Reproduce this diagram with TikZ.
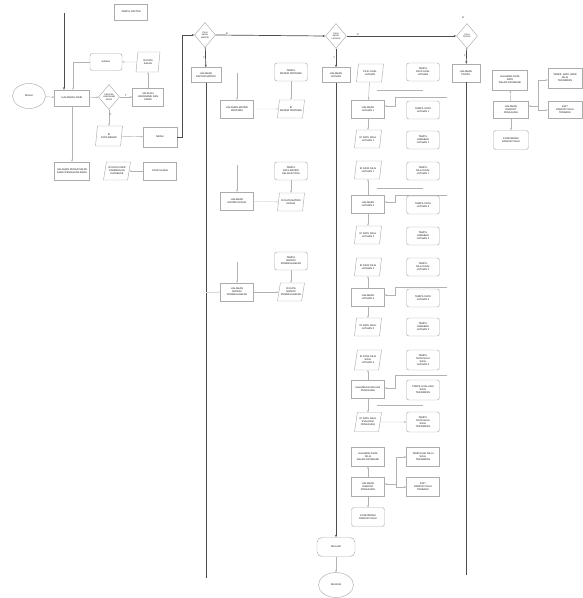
\documentclass[tikz,border=0pt]{standalone}
\usepackage{fontspec}
\setmainfont{Liberation Sans}
\usetikzlibrary{shapes.geometric,arrows.meta}
\tikzset{
  base/.style={draw=gray!65, line width=0.45pt, font=\fontsize{2.5}{3}\selectfont, text=gray!20!black, align=center, inner sep=0.6pt},
  proc/.style={base, rectangle, minimum width=33pt, minimum height=18pt},
  disp/.style={proc, rounded corners=2.5pt},
  io/.style={base, trapezium, trapezium left angle=72, trapezium right angle=108, trapezium stretches body, minimum width=27pt, minimum height=18pt},
  dec/.style={base, diamond, minimum width=21pt, minimum height=25pt, inner sep=0pt, font=\fontsize{2.1}{2.5}\selectfont},
  term/.style={base, ellipse, minimum width=33pt, minimum height=25pt},
  ar/.style={-{Stealth[length=2.2pt,width=1.8pt]}, draw=gray!60, line width=0.45pt},
  faint/.style={ar, draw=gray!30},
  mainln/.style={draw=black!70, line width=0.7pt},
  mainar/.style={mainln, -{Stealth[length=2.6pt,width=2pt]}},
  lbl/.style={font=\fontsize{2.5}{3}\selectfont, text=gray!30!black, inner sep=0.5pt},
}
\begin{document}
\begin{tikzpicture}[x=1pt,y=-1pt]
\useasboundingbox[fill=white] (0,0) rectangle (583,598);

% ---------- left part ----------
\node[proc, minimum height=16pt] (tampil) at (131,12) {TAMPIL DAFTAR};
\node[term] (start) at (29,96) {MULAI};
\node[proc, minimum width=35pt, minimum height=16pt] (login) at (72,98) {HALAMAN LOGIN};
\node[disp, minimum width=32pt, minimum height=17pt] (gagal) at (106,62) {GAGAL};
\node[io, minimum width=24pt, minimum height=20pt] (idsalah) at (148,62) {ID DATA\\SALAH};
\node[dec] (cek) at (109,97) {PERIKSA\\USERNAME\\SANDI};
\node[proc, minimum width=31pt] (valid) at (148,97) {VALIDASI\\USERNAME DAN\\SANDI};
\node[io, minimum height=20pt] (idbenar) at (109,136) {ID\\DATA BENAR};
\node[proc, minimum width=34pt, minimum height=20pt] (menu) at (160,137) {MENU};
\node[proc, minimum width=35pt] (pengaturan) at (72,171) {HALAMAN PENGATURAN\\SANDI PENGGUNA BARU};
\node[io] (io2) at (117,171) {ID DATA USER\\DISIMPAN KE\\DATABASE};
\node[proc] (p3) at (160,171) {ATUR ULANG};

\coordinate (topL) at (64,13);
\coordinate (m1) at (182,35);
\draw[mainar] (topL) -- (topL |- login.north);
\draw[ar] (start) -- (login);
\draw[ar] (login) -- (cek);
\draw[ar] (cek) -- node[lbl,above]{T} (valid);
\draw[ar] (valid) -- (idsalah);
\draw[ar] (idsalah) -- (gagal);
\draw[ar] (gagal.west) -| ([xshift=1pt]login.north);
\draw[ar] (cek) -- node[lbl,right,pos=0.3]{Y} (idbenar);
\draw[ar] (idbenar) -- (menu);
\draw[ar] (login) -- (pengaturan);
\draw[ar] (p3) -- (io2);

% ---------- decisions ----------
\node[dec] (d1) at (205,35) {PILIH\\MENU\\MATERI};
\node[dec] (d2) at (336,36) {PILIH\\MENU\\LATIHAN};
\node[dec] (d3) at (467,36) {PILIH\\PROFIL};
\node[lbl] at (463,18) {N};
\draw[mainar] (menu.east) -| (m1) -- (d1.west);
\draw[mainar] (d1.east) -- node[lbl,above,pos=0.1]{N} (d2.west);
\draw[mainar] (d2.east) -- node[lbl,above,pos=0.1]{N} (d3.west);

\node[proc, minimum width=30pt, minimum height=15pt] (h1) at (206,75) {HALAMAN\\DAFTAR MATERI};
\node[proc, minimum width=28pt, minimum height=15pt] (h2) at (336,75) {HALAMAN\\LATIHAN};
\node[proc, minimum width=28pt, minimum height=18pt] (h3) at (466,73) {HALAMAN\\PROFIL};
\draw[mainar] (d1) -- node[lbl,left]{Y} (h1);
\draw[mainar] (d2) -- node[lbl,left]{Y} (h2);
\draw[mainar] (d3) -- node[lbl,left]{Y} (h3);

\coordinate (e1) at (206,578);
\coordinate (e3) at (466,575);
\draw[mainln] (h1.south) -- (e1);
\draw[mainln] (h3.south) -- (e3);

% ---------- bottom ----------
\node[disp, minimum width=38pt, minimum height=19pt, rounded corners=5pt] (sel) at (336,547) {KELUAR};
\node[term, minimum width=35pt, minimum height=25pt] (fin) at (336,585) {SELESAI};
\draw[mainar] (h2.south) -- (sel.north);
\draw[ar] (sel) -- (fin);

% ---------- materi section ----------
\node[proc] (P1) at (237,109) {HALAMAN MATERI\\PERTAMA};
\node[proc] (P2) at (237,201) {HALAMAN\\MATERI KEDUA};
\node[proc] (P3) at (237,292) {HALAMAN\\MATERI\\PEMBELAJARAN};
\node[disp] (Q1) at (291,72) {TAMPIL\\MATERI PERTAMA};
\node[io] (Q2) at (291,109) {ID\\MATERI PERTAMA};
\node[disp] (Q3) at (291,171) {TAMPIL\\DATA MATERI\\SELANJUTNYA};
\node[io] (Q4) at (291,202) {ID DATA MATERI\\KEDUA};
\node[disp] (Q5) at (291,261) {TAMPIL\\MATERI\\PEMBELAJARAN};
\node[io] (Q6) at (291,292) {ID DATA\\MATERI\\PEMBELAJARAN};
\coordinate (pa) at (237,73);
\coordinate (pb) at (237,165);
\coordinate (pc) at (237,262);
\draw[ar] (pa) -- (P1);
\draw[ar] (pb) -- (P2);
\draw[ar] (pc) -- (P3);
\draw[ar] (Q1) -- (Q2);
\draw[ar] (Q3) -- (Q4);
\draw[ar] (Q5) -- (Q6);
\draw[faint] (P1) -- (Q2);
\draw[faint] (P2) -- (Q4);
\draw[ar] (P3) -- (Q6);
\draw[faint] (h1.south |- P3) -- (P3.west);

% ---------- latihan section ----------
\node[io] (L1) at (370,73) {PILIH SOAL\\LATIHAN};
\node[proc] (L2) at (368,109) {HALAMAN\\LATIHAN 1};
\node[io] (L3) at (368,139) {ID DATA SOAL\\LATIHAN 1};
\node[io] (L4) at (368,170) {ID DATA NILAI\\LATIHAN 1};
\node[proc] (L5) at (368,204) {HALAMAN\\LATIHAN 2};
\node[io] (L6) at (368,235) {ID DATA SOAL\\LATIHAN 2};
\node[io] (L7) at (368,267) {ID DATA NILAI\\LATIHAN 2};
\node[proc] (L8) at (368,297) {HALAMAN\\LATIHAN 3};
\node[io] (L9) at (368,327) {ID DATA SOAL\\LATIHAN 3};
\node[io, minimum height=20pt] (L10) at (368,360) {ID DATA NILAI\\SOAL\\LATIHAN 3};
\node[proc] (L11) at (368,389) {HALAMAN EVALUASI\\PENGGUNA};
\node[io, minimum height=19pt] (L12) at (368,422) {ID DATA SOAL\\EVALUASI\\PENGGUNA};
\node[proc, minimum height=19pt] (L13) at (368,457) {HALAMAN DATA\\NILAI\\DALAM DATABASE};
\node[proc, minimum height=19pt] (L14) at (368,487) {HALAMAN\\RIWAYAT\\PENGGUNA};
\node[disp, minimum height=19pt] (L15) at (368,517) {KONFIRMASI\\RIWAYAT NILAI};

\node[disp] (R1) at (423,72) {TAMPIL\\DATA SOAL\\LATIHAN};
\node[disp] (R2) at (423,110) {TAMPIL DATA\\LATIHAN 1};
\node[disp] (R3) at (423,140) {TAMPIL\\JAWABAN\\LATIHAN 1};
\node[disp] (R4) at (423,171) {TAMPIL\\NILAI SOAL\\LATIHAN 1};
\node[disp] (R5) at (423,205) {TAMPIL DATA\\LATIHAN 2};
\node[disp] (R6) at (423,236) {TAMPIL\\JAWABAN\\LATIHAN 2};
\node[disp] (R7) at (423,267) {TAMPIL\\NILAI SOAL\\LATIHAN 2};
\node[disp] (R8) at (423,298) {TAMPIL DATA\\LATIHAN 3};
\node[disp] (R9) at (423,327) {TAMPIL\\JAWABAN\\LATIHAN 3};
\node[disp, minimum height=20pt] (R10) at (423,360) {TAMPIL\\DATA NILAI\\SOAL\\LATIHAN 3};
\node[disp, minimum height=20pt] (R11) at (423,390) {TAMPIL EVALUASI\\SOAL\\TERSIMPAN};
\node[disp, minimum height=20pt] (R12) at (423,422) {TAMPIL\\DATA NILAI\\SOAL\\TERSIMPAN};
\node[proc, minimum height=19pt] (R13) at (423,457) {TAMPILKAN NILAI\\SOAL\\TERSIMPAN};
\node[proc, minimum height=19pt] (R14) at (423,487) {EDIT\\RIWAYAT NILAI\\TERBARU};

\draw[ar] (L1) -- (L2);
\draw[ar] (L2) -- (L3);
\draw[ar] (L5) -- (L4);
\draw[ar] (L5) -- (L6);
\draw[ar] (L8) -- (L7);
\draw[ar] (L8) -- (L9);
\draw[ar] (L11) -- (L10);
\draw[ar] (L11) -- (L12);
\draw[ar] (L14) -- (L13);
\draw[ar] (L14) -- (L15);
\draw[ar] (L12) -- (R12);

\coordinate (ka) at (447,97);
\coordinate (kb) at (447,195);
\coordinate (kc) at (447,287);
\coordinate (kd) at (447,375);
\draw[ar] (ka) -| (395,106) -- (L2.east |- {(0,106)});
\draw[ar] (kb) -| (395,202) -- (L5.east |- {(0,202)});
\draw[ar] (kc) -| (395,295) -- (L8.east |- {(0,295)});
\draw[ar] (kd) -| (395,388) -- (L11.east |- {(0,388)});

\coordinate (ga1) at (377,90);  \coordinate (ga2) at (423,90);
\coordinate (gb1) at (377,188); \coordinate (gb2) at (423,188);
\coordinate (gc1) at (377,405); \coordinate (gc2) at (423,405);
\draw[draw=gray!60, line width=0.45pt] (ga1) -- (ga2);
\draw[draw=gray!60, line width=0.45pt] (gb1) -- (gb2);
\draw[draw=gray!60, line width=0.45pt] (gc1) -- (gc2);

\coordinate (ja) at (396,457);
\coordinate (jb) at (396,487);
\draw[draw=gray!60, line width=0.45pt] (ja) -- (jb);
\draw[ar] (ja) -- (R13.west);
\draw[ar] (jb) -- (R14.west);
\draw[ar] (396,484) -- (L14.east |- {(0,484)});

% ---------- profil section ----------
\node[proc, minimum width=35pt, minimum height=20pt] (T1) at (510,80) {HALAMAN DATA\\DATA\\DALAM DATABASE};
\node[proc, minimum width=35pt, minimum height=17pt] (T2) at (511,110) {HALAMAN\\RIWAYAT\\PENGGUNA};
\node[disp, minimum width=35pt, minimum height=19pt] (T3) at (511,140) {KONFIRMASI\\RIWAYAT NILAI};
\node[proc, minimum width=34pt, minimum height=20pt] (U1) at (565,78) {TAMPIL DATA USER\\NILAI\\TERSIMPAN};
\node[proc, minimum width=34pt, minimum height=17pt] (U2) at (565,110) {EDIT\\RIWAYAT NILAI\\TERBARU};
\draw[ar] (T2) -- (T1);
\draw[ar] (T2) -- (T3);
\coordinate (ua) at (538,80);
\coordinate (ub) at (538,110);
\draw[draw=gray!60, line width=0.45pt] (ua) -- (ub);
\draw[ar] (ua) -- (U1.west |- ua);
\draw[ar] (ub) -- (U2.west);
\draw[ar] (538,106) -- (T2.east |- {(0,106)});
\end{tikzpicture}
\end{document}
